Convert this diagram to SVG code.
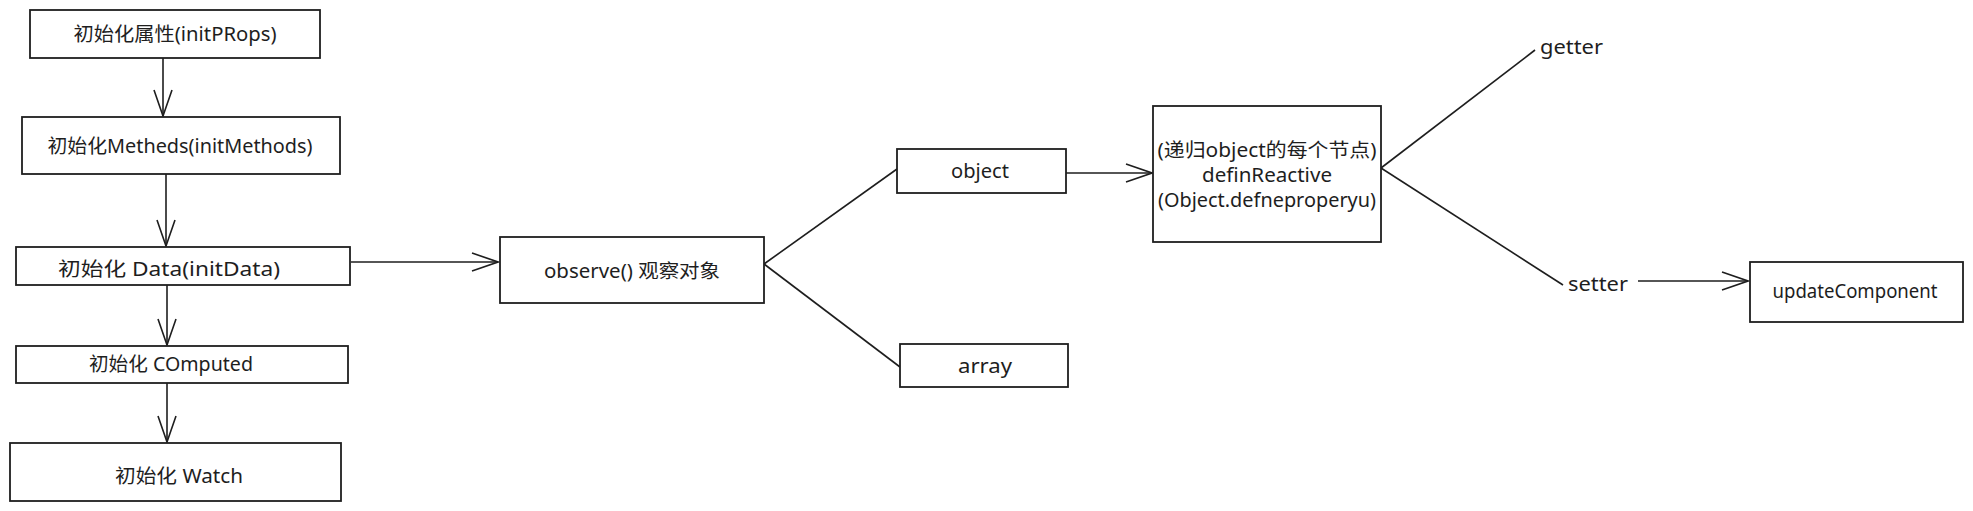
<svg xmlns="http://www.w3.org/2000/svg" width="1973" height="511" viewBox="0 0 1973 511">
<style>
.box{fill:#fff;stroke:#1e1e1e;stroke-width:1.8}
.t{font-family:"Noto Sans","Noto Sans CJK SC",sans-serif;font-size:19px;fill:#1e1e1e;text-anchor:middle;dominant-baseline:central}
.tl{font-family:"Noto Sans","Noto Sans CJK SC",sans-serif;font-size:19px;fill:#1e1e1e;dominant-baseline:central}
.c{fill:none;stroke:#1e1e1e;stroke-width:1.6}
</style>
<defs>
<marker id="ah" markerUnits="userSpaceOnUse" markerWidth="30" markerHeight="24" viewBox="0 0 30 24" refX="28" refY="12" orient="auto">
<path d="M2,3 L28,12 L2,21" fill="none" stroke="#1e1e1e" stroke-width="1.6"/>
</marker>
</defs>
<rect width="1973" height="511" fill="#fff"/>
<g id="connectors">
<line class="c" x1="163" y1="58" x2="163" y2="116" marker-end="url(#ah)"/>
<line class="c" x1="166" y1="174" x2="166" y2="246" marker-end="url(#ah)"/>
<line class="c" x1="167" y1="285" x2="167" y2="345" marker-end="url(#ah)"/>
<line class="c" x1="167" y1="383" x2="167" y2="442" marker-end="url(#ah)"/>
<line class="c" x1="351" y1="262" x2="498" y2="262" marker-end="url(#ah)"/>
<line class="c" x1="764" y1="264" x2="897" y2="169"/>
<line class="c" x1="764" y1="264" x2="900" y2="367"/>
<line class="c" x1="1066" y1="173" x2="1152" y2="173" marker-end="url(#ah)"/>
<line class="c" x1="1381" y1="168" x2="1535" y2="50"/>
<line class="c" x1="1381" y1="168" x2="1563" y2="285"/>
<line class="c" x1="1638" y1="281" x2="1748" y2="281" marker-end="url(#ah)"/>
</g>
<g id="n1"><rect class="box" x="30" y="10" width="290" height="48"/><text class="t" x="175" y="34" textLength="203" lengthAdjust="spacingAndGlyphs">初始化属性(initPRops)</text></g>
<g id="n2"><rect class="box" x="22" y="117" width="318" height="57"/><text class="t" x="180" y="146" textLength="265" lengthAdjust="spacingAndGlyphs">初始化Metheds(initMethods)</text></g>
<g id="n3"><rect class="box" x="16" y="247" width="334" height="38"/><text class="t" x="169" y="269" textLength="222" lengthAdjust="spacingAndGlyphs">初始化 Data(initData)</text></g>
<g id="n4"><rect class="box" x="16" y="346" width="332" height="37"/><text class="t" x="171" y="364" textLength="164" lengthAdjust="spacingAndGlyphs">初始化 COmputed</text></g>
<g id="n5"><rect class="box" x="10" y="443" width="331" height="58"/><text class="t" x="179" y="476" textLength="128" lengthAdjust="spacingAndGlyphs">初始化 Watch</text></g>
<g id="observe"><rect class="box" x="500" y="237" width="264" height="66"/><text class="t" x="632" y="271" textLength="176" lengthAdjust="spacingAndGlyphs">observe() 观察对象</text></g>
<g id="object"><rect class="box" x="897" y="149" width="169" height="44"/><text class="t" x="980" y="171" textLength="58" lengthAdjust="spacingAndGlyphs">object</text></g>
<g id="array"><rect class="box" x="900" y="344" width="168" height="43"/><text class="t" x="985" y="366" textLength="54" lengthAdjust="spacingAndGlyphs">array</text></g>
<g id="define"><rect class="box" x="1153" y="106" width="228" height="136"/>
<text class="t" x="1267" y="150" textLength="219" lengthAdjust="spacingAndGlyphs">(递归object的每个节点)</text>
<text class="t" x="1267" y="175" textLength="130" lengthAdjust="spacingAndGlyphs">definReactive</text>
<text class="t" x="1267" y="200" textLength="218" lengthAdjust="spacingAndGlyphs">(Object.defneproperyu)</text></g>
<g id="getter"><text class="tl" x="1540" y="47" textLength="63" lengthAdjust="spacingAndGlyphs">getter</text></g>
<g id="setter"><text class="tl" x="1568" y="284" textLength="60" lengthAdjust="spacingAndGlyphs">setter</text></g>
<g id="update"><rect class="box" x="1750" y="262" width="213" height="60"/><text class="t" x="1855" y="291" textLength="165" lengthAdjust="spacingAndGlyphs">updateComponent</text></g>
</svg>
